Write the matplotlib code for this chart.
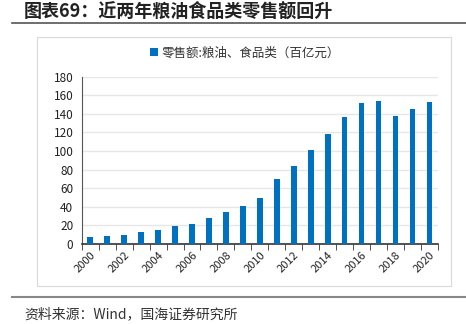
import matplotlib
matplotlib.use("Agg")
import matplotlib.pyplot as plt
from matplotlib.patches import Rectangle
from matplotlib.lines import Line2D
import numpy as np

plt.rcParams['font.family'] = ['Noto Sans CJK SC', 'DejaVu Sans']

years = [str(y) for y in range(2000, 2021)]
values = [7.5, 9, 10, 12.5, 15, 19.7, 22, 28, 34, 40.5, 49.5, 70, 84, 100.7, 118,
          136, 151, 153.5, 137.7, 145.6, 152.7]
yticks = [0, 20, 40, 60, 80, 100, 120, 140, 160, 180]
title = "图表69：近两年粮油食品类零售额回升"
legend_label = "零售额:粮油、食品类（百亿元）"
source = "资料来源：Wind，国海证券研究所"

W, H = 466, 324
fig = plt.figure(figsize=(W / 100, H / 100), dpi=100)

# outer decorations
fig.add_artist(Line2D([12 / W, 1], [1 - 23 / H, 1 - 23 / H], color='#555555', lw=1.2))
fig.add_artist(Line2D([12 / W, 1], [1 - 297 / H, 1 - 297 / H], color='#888888', lw=1.5))
fig.add_artist(Rectangle((37 / W, 1 - 286 / H), (451 - 37) / W, (286 - 37) / H,
                         transform=fig.transFigure, fill=False, ec='#d9d9d9', lw=0.8))
fig.text(24 / W, 1 - 11 / H, title, fontsize=13, fontweight='bold', va='center', ha='left',
         color='#222222')
fig.text(24 / W, 1 - 314 / H, source, fontsize=10, va='center', ha='left', color='#333333')

ax = fig.add_axes([81.7 / W, 1 - 244 / H, (438 - 81.7) / W, (244 - 76.5) / H])
x = np.arange(len(years))
ax.bar(x, values, width=0.33, color='#0070C0', label=legend_label, zorder=3)
ax.set_xlim(-0.5, len(years) - 0.5)
ax.set_ylim(0, 180)
ax.set_yticks(yticks)
ax.set_yticklabels([str(v) for v in yticks], fontsize=8.5, color='#222222')
ax.grid(axis='y', color='#e6e6e6', lw=1, zorder=0)
ax.set_xticks(x[::2])
ax.set_xticklabels(years[::2], rotation=45, ha='right', rotation_mode='anchor', fontsize=8,
                   color='#222222')
ax.tick_params(axis='x', length=0, pad=4)
ax.set_xticks(np.arange(-0.5, len(years), 1), minor=True)
ax.tick_params(axis='x', which='minor', length=4, color='#333333', direction='out')
ax.tick_params(axis='y', length=0, pad=6)
for s in ['top', 'right']:
    ax.spines[s].set_visible(False)
ax.spines['left'].set_color('#555555')
ax.spines['bottom'].set_color('#333333')
ax.spines['bottom'].set_linewidth(1.2)

leg = fig.legend(loc='center', bbox_to_anchor=(245 / W, 1 - 53 / H), frameon=False,
                 fontsize=9, handlelength=0.6, handleheight=0.6, handletextpad=0.3)
for t in leg.get_texts():
    t.set_color('#333333')

fig.savefig('out.png', dpi=100)
